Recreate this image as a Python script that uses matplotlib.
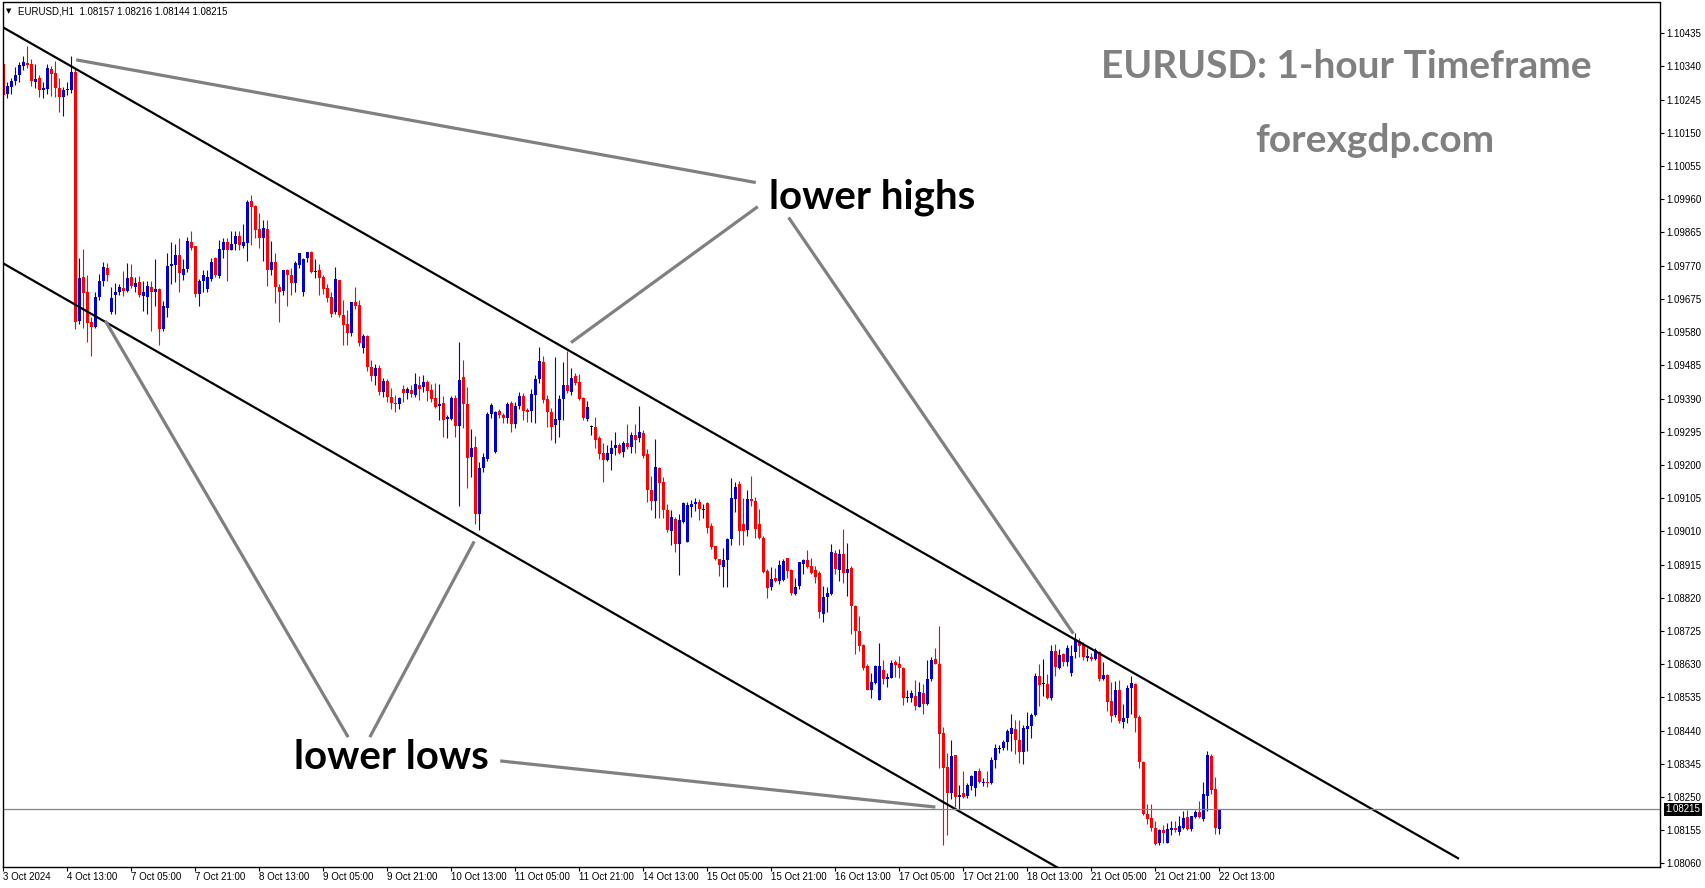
import numpy as np
import matplotlib.pyplot as plt
from matplotlib.transforms import blended_transform_factory

# EURUSD H1 candles, prices in points (1e-5), bar 0 = 3 Oct 21:00
opens = [
    110346, 110260, 110282, 110298, 110317, 110342, 110350, 110348, 110297, 110308,
    110272, 110277, 110333, 110321, 110279, 110253, 110272, 110274, 110325, 109612,
    109739, 109695, 109610, 109595, 109681, 109725, 109764, 109637, 109685, 109696,
    109706, 109698, 109738, 109710, 109723, 109683, 109681, 109710, 109696, 109704,
    109588, 109650, 109769, 109772, 109801, 109744, 109761, 109837, 109827, 109690,
    109725, 109704, 109732, 109791, 109740, 109816, 109837, 109816, 109831, 109854,
    109826, 109835, 109955, 109940, 109875, 109850, 109875, 109757, 109780, 109709,
    109698, 109757, 109744, 109721, 109772, 109694, 109793, 109808, 109753, 109757,
    109738, 109706, 109681, 109637, 109728, 109629, 109603, 109578, 109666, 109658,
    109535, 109568, 109480, 109455, 109478, 109410, 109440, 109395, 109378, 109374,
    109416, 109407, 109414, 109401, 109428, 109422, 109437, 109413, 109392, 109369,
    109378, 109331, 109331, 109392, 109310, 109451, 109374, 109224, 109251, 109060,
    109191, 109218, 109346, 109237, 109353, 109344, 109334, 109378, 109317, 109369,
    109397, 109357, 109355, 109401, 109445, 109495, 109388, 109352, 109313, 109329,
    109390, 109430, 109409, 109455, 109436, 109392, 109331, 109308, 109308, 109277,
    109233, 109214, 109230, 109247, 109258, 109237, 109264, 109251, 109285, 109276,
    109291, 109230, 109127, 109096, 109192, 109152, 109072, 109012, 109045, 108974,
    109037, 108978, 109079, 109087, 109093, 109070, 109091, 109024, 108967, 108932,
    108909, 108927, 108988, 109102, 109144, 109030, 109014, 109102, 109098, 109030,
    108992, 108896, 108852, 108877, 108869, 108871, 108934, 108898, 108831, 108854,
    108917, 108929, 108912, 108898, 108892, 108774, 108822, 108831, 108948, 108900,
    108946, 108892, 108906, 108797, 108725, 108685, 108626, 108557, 108576, 108528,
    108614, 108588, 108591, 108635, 108629, 108620, 108532, 108532, 108540, 108507,
    108546, 108517, 108588, 108645, 108631, 108433, 108336, 108260, 108370, 108250,
    108262, 108252, 108281, 108275, 108323, 108290, 108294, 108290, 108355, 108387,
    108389, 108408, 108431, 108443, 108414, 108378, 108443, 108452, 108483, 108595,
    108574, 108574, 108532, 108667, 108618, 108658, 108637, 108605, 108664, 108696,
    108685, 108648, 108650, 108645, 108664, 108587, 108599, 108525, 108483, 108555,
    108464, 108477, 108561, 108574, 108479, 108351, 108202, 108189, 108162, 108119,
    108155, 108119, 108155, 108160, 108151, 108162, 108193, 108157, 108193, 108206,
    108187, 108252, 108368, 108273, 108157,
]
highs = [
    110350, 110297, 110308, 110338, 110354, 110369, 110398, 110361, 110348, 110316,
    110297, 110348, 110342, 110356, 110306, 110281, 110295, 110371, 110335, 109793,
    109818, 109742, 109624, 109696, 109746, 109780, 109778, 109710, 109720, 109719,
    109755, 109778, 109774, 109738, 109740, 109725, 109725, 109727, 109790, 109706,
    109668, 109805, 109837, 109831, 109849, 109790, 109851, 109870, 109827, 109732,
    109757, 109759, 109791, 109795, 109843, 109849, 109849, 109868, 109870, 109868,
    109889, 109959, 109972, 109944, 109921, 109902, 109902, 109841, 109805, 109719,
    109759, 109761, 109763, 109784, 109807, 109793, 109810, 109812, 109789, 109776,
    109744, 109717, 109696, 109765, 109730, 109671, 109643, 109667, 109709, 109671,
    109575, 109572, 109500, 109490, 109485, 109450, 109445, 109420, 109400, 109395,
    109428, 109422, 109428, 109462, 109453, 109458, 109443, 109432, 109434, 109432,
    109397, 109342, 109397, 109399, 109552, 109500, 109424, 109302, 109283, 109209,
    109233, 109350, 109378, 109353, 109359, 109348, 109380, 109382, 109380, 109409,
    109405, 109363, 109418, 109456, 109536, 109512, 109399, 109363, 109508, 109399,
    109495, 109527, 109476, 109464, 109460, 109395, 109384, 109313, 109336, 109283,
    109262, 109258, 109270, 109295, 109262, 109268, 109316, 109293, 109317, 109369,
    109300, 109245, 109167, 109274, 109195, 109165, 109087, 109070, 109052, 109060,
    109093, 109094, 109100, 109106, 109102, 109089, 109093, 109033, 108969, 108932,
    108961, 108990, 109163, 109152, 109153, 109104, 109127, 109169, 109108, 109075,
    108997, 108902, 108909, 108906, 108927, 108930, 108934, 108902, 108875, 108923,
    108932, 108957, 108934, 108910, 108896, 108854, 108850, 108974, 108957, 108959,
    109018, 108976, 108910, 108799, 108767, 108687, 108631, 108605, 108628, 108689,
    108643, 108605, 108643, 108643, 108654, 108622, 108557, 108557, 108584, 108578,
    108572, 108643, 108650, 108677, 108740, 108450, 108376, 108412, 108370, 108284,
    108323, 108290, 108313, 108324, 108332, 108304, 108324, 108363, 108401, 108399,
    108414, 108445, 108486, 108471, 108471, 108456, 108494, 108490, 108605, 108631,
    108645, 108601, 108686, 108688, 108673, 108662, 108686, 108686, 108719, 108704,
    108694, 108677, 108662, 108675, 108667, 108635, 108601, 108580, 108582, 108584,
    108515, 108570, 108595, 108576, 108483, 108353, 108231, 108231, 108180, 108157,
    108170, 108176, 108180, 108181, 108195, 108210, 108212, 108195, 108212, 108239,
    108292, 108382, 108372, 108307, 108216,
]
lows = [
    110256, 110251, 110260, 110287, 110297, 110331, 110335, 110285, 110279, 110253,
    110251, 110262, 110256, 110253, 110211, 110199, 110258, 110263, 109589, 109603,
    109591, 109551, 109513, 109591, 109671, 109713, 109725, 109633, 109633, 109685,
    109683, 109694, 109706, 109694, 109681, 109641, 109633, 109582, 109656, 109542,
    109584, 109622, 109717, 109723, 109696, 109729, 109753, 109814, 109681, 109656,
    109694, 109694, 109725, 109738, 109736, 109791, 109727, 109814, 109814, 109814,
    109820, 109784, 109830, 109849, 109820, 109784, 109713, 109742, 109662, 109610,
    109686, 109656, 109686, 109696, 109763, 109683, 109780, 109749, 109734, 109685,
    109690, 109667, 109624, 109633, 109622, 109544, 109544, 109570, 109646, 109540,
    109520, 109470, 109440, 109430, 109400, 109395, 109380, 109360, 109350, 109360,
    109380, 109390, 109393, 109395, 109386, 109409, 109384, 109380, 109363, 109329,
    109281, 109277, 109329, 109279, 109083, 109306, 109134, 109165, 109031, 109014,
    109180, 109212, 109334, 109235, 109333, 109321, 109319, 109294, 109306, 109361,
    109329, 109323, 109323, 109321, 109434, 109378, 109308, 109272, 109262, 109279,
    109329, 109407, 109401, 109428, 109386, 109329, 109327, 109287, 109247, 109216,
    109151, 109212, 109184, 109228, 109232, 109224, 109245, 109235, 109235, 109266,
    109220, 109093, 109072, 109047, 109049, 109047, 109009, 108972, 108950, 108885,
    109035, 108978, 109052, 109068, 109041, 109047, 109005, 108959, 108929, 108881,
    108850, 108850, 108972, 109064, 108972, 108972, 108997, 109081, 108992, 108988,
    108890, 108820, 108841, 108866, 108860, 108869, 108875, 108829, 108827, 108845,
    108887, 108906, 108887, 108862, 108761, 108751, 108778, 108828, 108887, 108868,
    108862, 108824, 108715, 108660, 108668, 108614, 108555, 108532, 108574, 108528,
    108574, 108565, 108589, 108593, 108589, 108513, 108523, 108521, 108498, 108506,
    108488, 108513, 108582, 108629, 108334, 108113, 108142, 108244, 108222, 108216,
    108246, 108246, 108269, 108252, 108290, 108281, 108277, 108286, 108332, 108376,
    108384, 108385, 108382, 108372, 108347, 108343, 108382, 108418, 108481, 108511,
    108538, 108530, 108528, 108595, 108616, 108626, 108624, 108595, 108647, 108650,
    108643, 108639, 108639, 108641, 108582, 108584, 108496, 108464, 108479, 108462,
    108446, 108462, 108486, 108437, 108332, 108199, 108172, 108153, 108113, 108113,
    108119, 108117, 108141, 108151, 108141, 108159, 108155, 108153, 108189, 108191,
    108181, 108210, 108258, 108145, 108144,
]
closes = [
    110258, 110285, 110298, 110317, 110344, 110352, 110344, 110298, 110304, 110272,
    110279, 110337, 110319, 110279, 110253, 110274, 110277, 110325, 109610, 109736,
    109693, 109605, 109595, 109681, 109727, 109765, 109744, 109679, 109696, 109708,
    109698, 109734, 109713, 109721, 109685, 109696, 109713, 109694, 109702, 109588,
    109656, 109770, 109776, 109801, 109748, 109761, 109841, 109822, 109690, 109727,
    109744, 109738, 109780, 109744, 109818, 109837, 109816, 109831, 109854, 109830,
    109837, 109953, 109938, 109871, 109850, 109877, 109757, 109782, 109709, 109694,
    109757, 109744, 109721, 109778, 109805, 109789, 109808, 109751, 109755, 109736,
    109704, 109677, 109633, 109732, 109629, 109601, 109578, 109666, 109656, 109548,
    109568, 109480, 109455, 109478, 109410, 109440, 109395, 109378, 109374, 109391,
    109407, 109416, 109403, 109432, 109416, 109437, 109411, 109390, 109367, 109374,
    109329, 109338, 109392, 109310, 109443, 109373, 109220, 109249, 109060, 109191,
    109224, 109346, 109371, 109352, 109342, 109334, 109374, 109317, 109369, 109397,
    109353, 109352, 109403, 109447, 109496, 109386, 109350, 109308, 109331, 109390,
    109430, 109411, 109449, 109434, 109390, 109333, 109367, 109308, 109270, 109231,
    109214, 109235, 109249, 109258, 109235, 109264, 109251, 109287, 109270, 109293,
    109226, 109127, 109098, 109195, 109148, 109070, 109014, 109051, 108974, 109041,
    109091, 109085, 109089, 109093, 109073, 109075, 109020, 108965, 108930, 108915,
    108929, 108988, 109106, 109136, 109010, 109010, 109102, 109098, 109016, 108990,
    108894, 108849, 108873, 108869, 108915, 108925, 108896, 108833, 108852, 108921,
    108929, 108909, 108892, 108879, 108778, 108822, 108833, 108950, 108902, 108946,
    108891, 108902, 108797, 108725, 108681, 108620, 108557, 108580, 108624, 108626,
    108586, 108593, 108633, 108628, 108620, 108532, 108536, 108547, 108509, 108549,
    108517, 108588, 108643, 108631, 108429, 108332, 108260, 108368, 108250, 108256,
    108250, 108284, 108309, 108323, 108292, 108294, 108290, 108355, 108391, 108387,
    108408, 108439, 108446, 108412, 108378, 108446, 108454, 108484, 108597, 108570,
    108574, 108534, 108667, 108622, 108656, 108637, 108677, 108654, 108700, 108683,
    108650, 108654, 108645, 108669, 108586, 108599, 108523, 108481, 108555, 108467,
    108477, 108561, 108576, 108475, 108349, 108200, 108187, 108162, 108115, 108155,
    108147, 108157, 108160, 108155, 108166, 108191, 108157, 108195, 108206, 108193,
    108258, 108370, 108269, 108160, 108215,
]

date_labels = ["3 Oct 2024", "4 Oct 13:00", "7 Oct 05:00", "7 Oct 21:00", "8 Oct 13:00",
               "9 Oct 05:00", "9 Oct 21:00", "10 Oct 13:00", "11 Oct 05:00", "11 Oct 21:00",
               "14 Oct 13:00", "15 Oct 05:00", "15 Oct 21:00", "16 Oct 13:00", "17 Oct 05:00",
               "17 Oct 21:00", "18 Oct 13:00", "21 Oct 05:00", "21 Oct 21:00", "22 Oct 13:00"]
bars_per_label = 16
price_ticks = [1.10435, 1.10340, 1.10245, 1.10150, 1.10055, 1.09960, 1.09865, 1.09770,
               1.09675, 1.09580, 1.09485, 1.09390, 1.09295, 1.09200, 1.09105, 1.09010,
               1.08915, 1.08820, 1.08725, 1.08630, 1.08535, 1.08440, 1.08345, 1.08250,
               1.08155, 1.08060]
last_price = 1.08215
header = "EURUSD,H1  1.08157 1.08216 1.08144 1.08215"

# channel and pointer lines as (bar, price)
upper_channel = [(0, 1.10452), (364, 1.08073)]
lower_channel = [(0, 1.09777), (270, 1.08006)]
pointer_lines = [
    [(18.3, 1.10359), (188.2, 1.10008)],
    [(142.0, 1.09550), (188.7, 1.09939)],
    [(196.4, 1.09908), (267.6, 1.08717)],
    [(25.6, 1.09612), (86.3, 1.08421)],
    [(91.7, 1.08421), (117.8, 1.08981)],
    [(124.3, 1.08353), (233.1, 1.08221)],
]

W, H = 1705, 888
fig = plt.figure(figsize=(W / 100, H / 100), dpi=100)
ax = fig.add_axes([2.5 / W, (H - 866.5) / H, 1657 / W, 864 / H])

o = np.array(opens) / 1e5
h = np.array(highs) / 1e5
l = np.array(lows) / 1e5
c = np.array(closes) / 1e5
idx = np.arange(len(o))

col = np.where(c > o, "#0000CD", np.where(c < o, "#FF0000", "#000000"))
ax.vlines(idx, l, h, colors=col, linewidth=0.8)
body = np.maximum(np.abs(c - o), 2.9e-5)
ax.bar(idx, body, bottom=np.minimum(o, c), width=0.75, color=col, linewidth=0)

# trend channel
for seg in (upper_channel, lower_channel):
    xs, ys = zip(*seg)
    ax.plot(xs, ys, color="black", lw=1.6, solid_capstyle="butt")
for seg in pointer_lines:
    xs, ys = zip(*seg)
    ax.plot(xs, ys, color="#808080", lw=2.3, solid_capstyle="butt")

ax.axhline(last_price, color="#778899", lw=0.9)

ax.set_xlim(-0.125, 414.125)
ax.set_ylim(1.080509, 1.105231)

ax.yaxis.tick_right()
ax.set_yticks(price_ticks)
ax.set_yticklabels([f"{v:.5f}" for v in price_ticks], family="Liberation Sans")
ax.tick_params(axis="y", direction="out", length=3, width=0.8, labelsize=7, pad=2)
ax.set_xticks(np.arange(len(date_labels)) * bars_per_label)
ax.set_xticklabels(date_labels, family="Liberation Sans", ha="left")
ax.tick_params(axis="x", direction="out", length=3, width=0.8, labelsize=7, pad=1)
for s in ax.spines.values():
    s.set_linewidth(1.0)

trans = blended_transform_factory(ax.transAxes, ax.transData)
ax.text(1.0 + 6 / 1657, last_price, f"{last_price:.5f}", transform=trans, ha="left",
        va="center", color="white", fontsize=7, family="Liberation Sans",
        bbox=dict(boxstyle="square,pad=0.15", fc="black", ec="none"))

fig.text(9 / W, 1 - 11 / H, "\u25bc", fontsize=5, ha="center", va="center")
fig.text(18 / W, 1 - 11 / H, header, fontsize=7, family="Liberation Sans", va="center")

fig.text(1346 / W, 1 - 78 / H, "EURUSD: 1-hour Timeframe", fontsize=28, weight="bold",
         color="#808080", family="Lato", ha="center", va="baseline")
fig.text(1375 / W, 1 - 152 / H, "forexgdp.com", fontsize=28, weight="bold",
         color="#808080", family="Lato", ha="center", va="baseline")
fig.text(872 / W, 1 - 209 / H, "lower highs", fontsize=29, weight="bold",
         color="black", family="Lato", ha="center", va="baseline")
fig.text(391 / W, 1 - 769 / H, "lower lows", fontsize=29, weight="bold",
         color="black", family="Lato", ha="center", va="baseline")

fig.savefig("out.png", dpi=100)
